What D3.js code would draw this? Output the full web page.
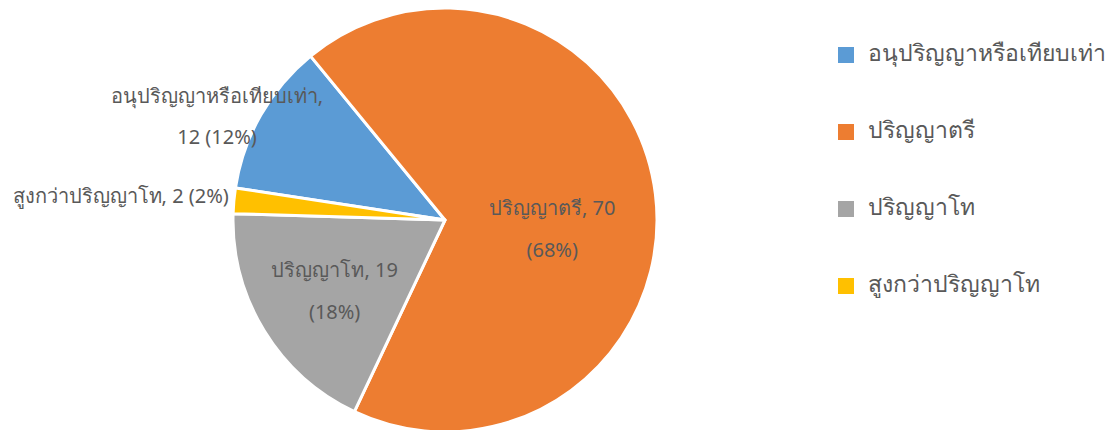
<!DOCTYPE html>
<html>
<head>
<meta charset="utf-8">
<script src="https://cdn.jsdelivr.net/npm/d3@7"></script>
<style>
  body { margin: 0; background: #fff; }
  text { font-family: "Noto Sans", "DejaVu Sans", sans-serif; fill: #595959; }
</style>
</head>
<body>
<script>
// data
var categories = ["อนุปริญญาหรือเทียบเท่า", "ปริญญาตรี", "ปริญญาโท", "สูงกว่าปริญญาโท"];
var values = [12, 70, 19, 2];
var colors = ["#5b9bd5", "#ed7d31", "#a5a5a5", "#ffc000"];

var width = 1113, height = 430;
var cx = 445, cy = 220, radius = 212;

var svg = d3.select("body").append("svg")
    .attr("width", width)
    .attr("height", height);

var total = d3.sum(values);
var startAngle = -81.3 * Math.PI / 180;

var pie = d3.pie()
    .sort(null)
    .startAngle(startAngle)
    .endAngle(startAngle + 2 * Math.PI);

var arcs = pie(values);
var arc = d3.arc().innerRadius(0).outerRadius(radius);

var g = svg.append("g").attr("transform", "translate(" + cx + "," + cy + ")");

g.selectAll("path")
    .data(arcs)
    .enter().append("path")
    .attr("d", arc)
    .style("fill", function (d, i) { return colors[i]; })
    .style("stroke", "#fff")
    .style("stroke-width", 3)
    .style("stroke-linejoin", "round");

function pct(v) { return Math.round(v / total * 100) + "%"; }

var labelArc = d3.arc().innerRadius(radius * 0.5).outerRadius(radius * 0.5);
var fontSize = 20;

// orange and gray, inside, two lines
var offsets = { 1: [2, 22], 2: [-20, 16] };
[1, 2].forEach(function (i) {
    var c = labelArc.centroid(arcs[i]);
    var x = c[0] + offsets[i][0], y = c[1] + offsets[i][1];
    var t = g.append("text")
        .attr("text-anchor", "middle")
        .style("font-size", fontSize + "px");
    t.append("tspan").attr("x", x).attr("y", y - 14)
        .text(categories[i] + ", " + values[i]);
    t.append("tspan").attr("x", x).attr("y", y + 28)
        .text("(" + pct(values[i]) + ")");
});

// blue, outside two lines
var tb = g.append("text").attr("text-anchor", "middle").style("font-size", fontSize + "px");
tb.append("tspan").attr("x", -228).attr("y", -117).text(categories[0] + ",");
tb.append("tspan").attr("x", -228).attr("y", -76).text(values[0] + " (" + pct(values[0]) + ")");

// yellow, outside one line
var ya = (arcs[3].startAngle + arcs[3].endAngle) / 2;
g.append("text")
    .attr("text-anchor", "end")
    .style("font-size", fontSize + "px")
    .attr("x", Math.sin(ya) * radius - 5)
    .attr("y", -Math.cos(ya) * radius + 2)
    .text(categories[3] + ", " + values[3] + " (" + pct(values[3]) + ")");

// legend
var legend = svg.append("g").attr("transform", "translate(838,55)");
var item = legend.selectAll("g")
    .data(categories)
    .enter().append("g")
    .attr("transform", function (d, i) { return "translate(0," + (i * 77) + ")"; });

item.append("rect")
    .attr("x", 0).attr("y", -8)
    .attr("width", 16).attr("height", 16)
    .style("fill", function (d, i) { return colors[i]; });

item.append("text")
    .attr("x", 30).attr("y", 6)
    .style("font-size", "23px")
    .text(function (d) { return d; });
</script>
</body>
</html>
